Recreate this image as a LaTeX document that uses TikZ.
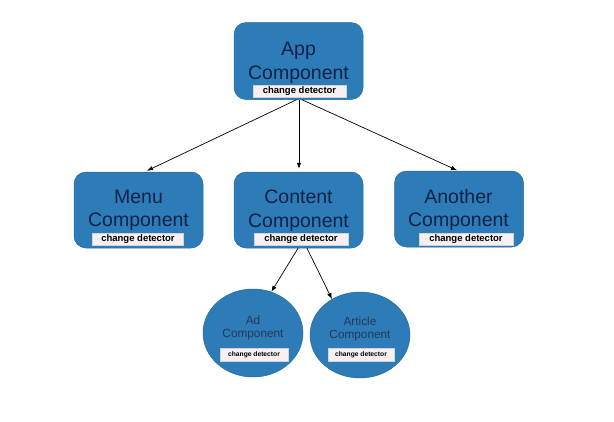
\documentclass[tikz,border=0pt]{standalone}
\usepackage{fontspec}
\setmainfont{Liberation Sans}
\usetikzlibrary{arrows.meta,calc,shapes.geometric}
\definecolor{boxblue}{RGB}{45,124,183}
\definecolor{navy}{RGB}{16,34,74}
\definecolor{leafnavy}{RGB}{38,55,92}
\definecolor{cdfill}{RGB}{246,240,242}
\begin{document}
\begin{tikzpicture}[x=1pt,y=-1pt,
  comp/.style={rectangle, rounded corners=12pt, fill=boxblue, draw=boxblue!85!black, line width=0.5pt,
    minimum width=129pt, minimum height=77pt, inner sep=0pt},
  comptext/.style={align=center, text=navy, inner sep=0pt, font=\fontsize{19.5}{23.5}\selectfont},
  leaf/.style={ellipse, fill=boxblue, draw=boxblue!85!black, line width=0.5pt,
    minimum width=100pt, minimum height=87pt, inner sep=0pt},
  leaftext/.style={align=center, text=leafnavy, inner sep=0pt, font=\fontsize{11.8}{12.5}\selectfont},
  cd/.style={rectangle, fill=cdfill, draw=gray!35, line width=0.3pt, minimum width=93pt,
    minimum height=12.5pt, inner sep=0pt, font=\bfseries\fontsize{9.5}{10}\selectfont},
  cds/.style={cd, minimum width=67pt, minimum height=13pt, font=\bfseries\fontsize{6.7}{7}\selectfont},
  arr/.style={-{Latex[length=6pt,width=4.5pt]}, line width=0.7pt, black}]
\useasboundingbox (0,0) rectangle (614,421);

% component boxes
\node[comp] (app) at (298.5,61) {};
\node[comptext] (appT) at (298.5,63) {App\\Component};
\node[cd] (appCD) at (299.5,91) {change detector};

\node[comp, minimum height=76pt] (menu) at (138.5,210) {};
\node[comptext] (menuT) at (138.5,210.5) {Menu\\Component};
\node[cd, minimum width=91pt] (menuCD) at (138,239) {change detector};

\node[comp, minimum height=76pt] (content) at (298.5,210) {};
\node[comptext] (contentT) at (298.5,210.5) {Content\\Component};
\node[cd, minimum width=94pt] (contentCD) at (301,239) {change detector};

\node[comp, minimum height=76pt] (another) at (459,209) {};
\node[comptext] (anotherT) at (458.5,210) {Another\\Component};
\node[cd, minimum width=94pt] (anotherCD) at (466,239) {change detector};

% leaf ellipses
\node[leaf, minimum height=88pt] (ad) at (253,333) {};
\node[leaftext] (adT) at (253,328) {Ad\\Component};
\node[cds, minimum width=68pt] (adCD) at (254,355) {change detector};

\node[leaf, minimum height=86pt] (art) at (360,335) {};
\node[leaftext] (artT) at (360,329) {Article\\Component};
\node[cds, minimum width=66pt] (artCD) at (361,354.5) {change detector};

% connectors
\draw[arr] ($(app.south)+(-2,0)$) -- ($(menu.north)+(8.5,-1)$);
\draw[arr] ($(app.south)+(0.5,0)$) -- ($(content.north)+(0.5,-3)$);
\draw[arr] ($(app.south)+(3.5,0)$) -- ($(another.north)+(-2,-0.5)$);
\draw[arr] ($(content.south)+(-0.5,0)$) -- (ad.66);
\draw[arr] ($(content.south)+(8.5,0)$) -- (art.128);
\end{tikzpicture}
\end{document}
